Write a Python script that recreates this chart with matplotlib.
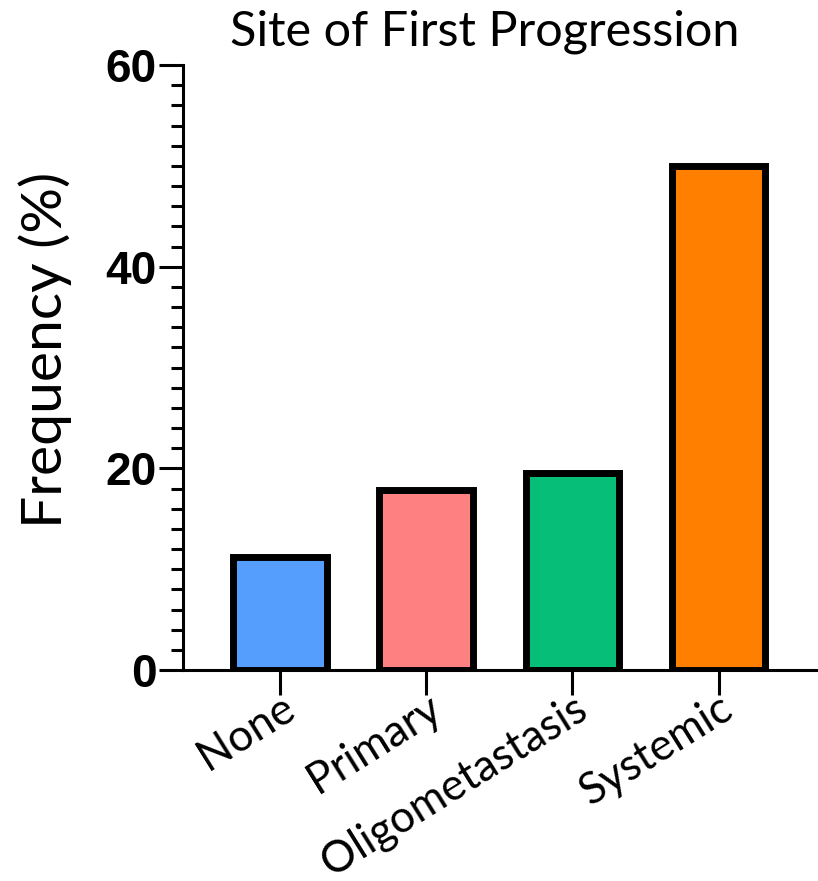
import matplotlib
matplotlib.use("Agg")
import matplotlib.pyplot as plt
import matplotlib.transforms as mtransforms
from matplotlib.ticker import MultipleLocator

categories = ["None", "Primary", "Oligometastasis", "Systemic"]
values = [11.2, 17.9, 19.5, 50.0]
colors = ["#569EFD", "#FF8080", "#06BE78", "#FF8000"]
yticks = [0, 20, 40, 60]

fig = plt.figure(figsize=(8.18, 8.81), dpi=100)
ax = fig.add_axes([183/818, 1-670/881, 1-183/818, (670-65)/881])

x = list(range(len(categories)))
ax.bar(x, values, width=0.64, color=colors, edgecolor="black", linewidth=5, zorder=3)

ax.set_xlim(-0.663, 3.68)
ax.set_ylim(0, 60)
ax.set_yticks(yticks)
ax.set_yticklabels([str(v) for v in yticks], fontfamily="Liberation Sans",
                   fontweight="bold", fontsize=33)
ax.yaxis.set_minor_locator(MultipleLocator(2))
ax.tick_params(axis="y", which="major", length=17, width=2.2, pad=2, direction="out")
ax.tick_params(axis="y", which="minor", length=8.5, width=2.2, direction="out")

ax.set_xticks(x)
ax.set_xticklabels(categories, fontfamily="Lato", fontsize=31.5, rotation=32,
                   ha="right", va="center", rotation_mode="anchor")
ax.tick_params(axis="x", which="major", length=18, width=2.2, pad=7, direction="out")
offset = mtransforms.ScaledTranslation(11/100, 0, fig.dpi_scale_trans)
for lab in ax.get_xticklabels():
    lab.set_transform(lab.get_transform() + offset)

for s in ["top", "right"]:
    ax.spines[s].set_visible(False)
for s in ["left", "bottom"]:
    ax.spines[s].set_linewidth(2.2)

fig.text(485/818, 1-32/881, "Site of First Progression", fontfamily="Lato",
         fontsize=35, ha="center", va="center")
fig.text(45/818, 1-350/881, "Frequency (%)", fontfamily="Lato", fontsize=41,
         ha="center", va="center", rotation=90)

fig.savefig("out.png", dpi=100)
